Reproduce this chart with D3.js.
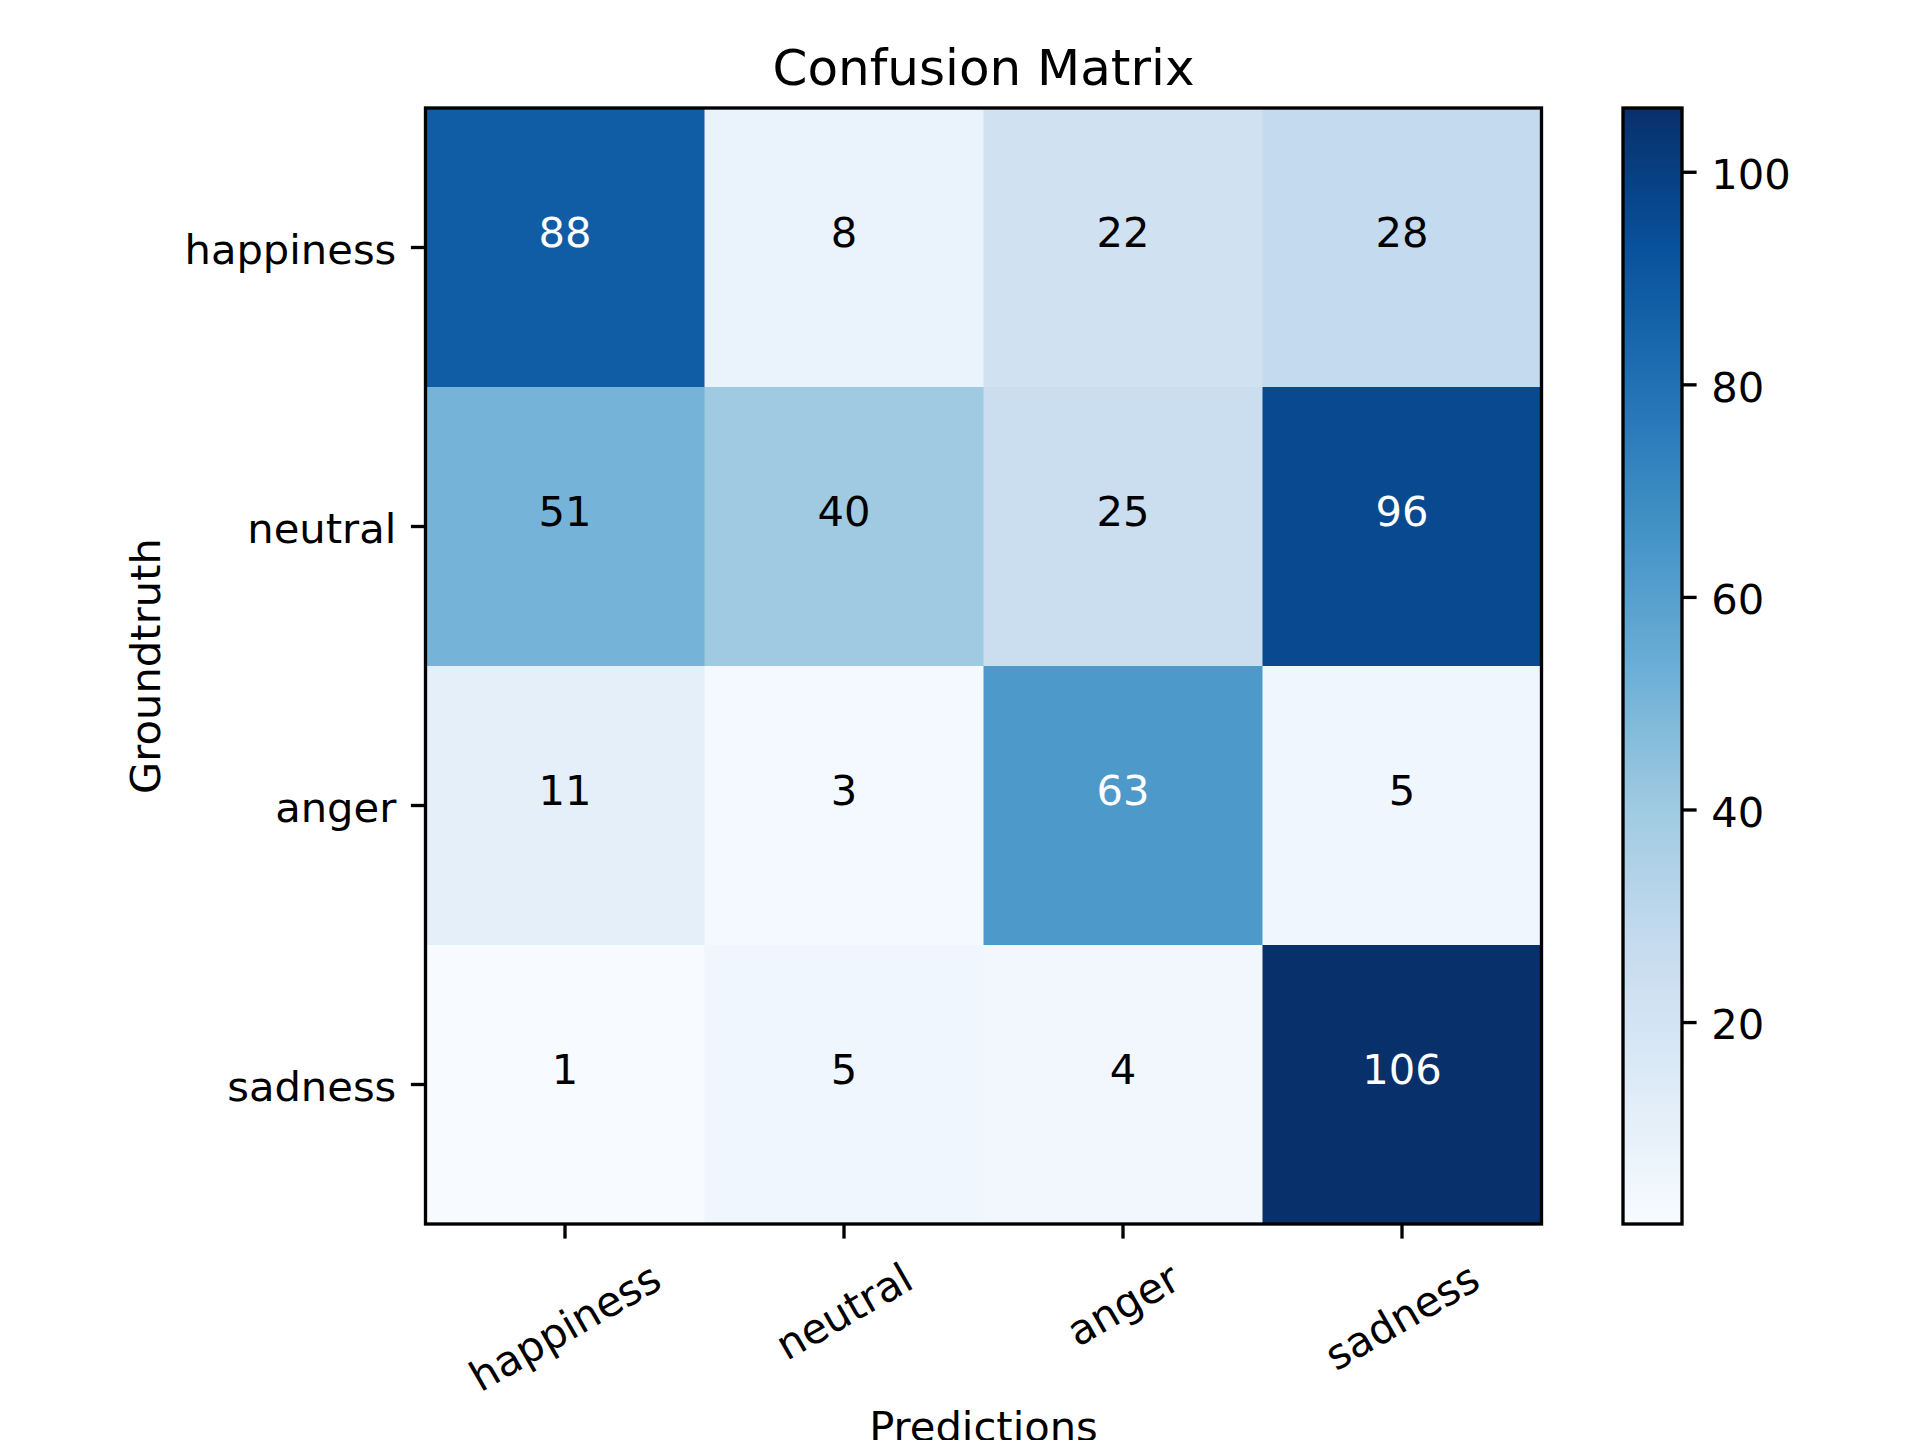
<!DOCTYPE html>
<html>
<head>
<meta charset="utf-8">
<script src="https://cdn.jsdelivr.net/npm/d3@7"></script>
<style>
  html, body { margin: 0; padding: 0; background: #fff; }
  svg { display: block; font-family: "DejaVu Sans", sans-serif; }
</style>
</head>
<body>
<svg id="chart" width="1920" height="1440"></svg>
<script>
// ---- data ----
const predictedLabels = ["happiness", "neutral", "anger", "sadness"];
const truthLabels = ["happiness", "neutral", "anger", "sadness"];
const rowHappiness = [88, 8, 22, 28];
const rowNeutral = [51, 40, 25, 96];
const rowAnger = [11, 3, 63, 5];
const rowSadness = [1, 5, 4, 106];
const colorbarTicks = [20, 40, 60, 80, 100];
const titleText = "Confusion Matrix";
const xLabelText = "Predictions";
const yLabelText = "Groundtruth";

// ---- style constants ----
const bluesStops = ["#f7fbff", "#deebf7", "#c6dbef", "#9ecae1", "#6baed6", "#4292c6", "#2171b5", "#08519c", "#08306b"];
const FS = 41.67, TICK = 14.6, PAD = 14.6, LW = 3.33;

const matrix = [rowHappiness, rowNeutral, rowAnger, rowSadness];
const flat = [];
matrix.forEach((row, i) => row.forEach((v, j) => flat.push({ truth: truthLabels[i], pred: predictedLabels[j], v })));
const vmin = d3.min(flat, d => d.v), vmax = d3.max(flat, d => d.v);

const pLeft = 425.5, pRight = 1541.5, pTop = 108, pBottom = 1224;
const svg = d3.select("#chart");

const x = d3.scaleBand().domain(predictedLabels).range([pLeft, pRight]).padding(0);
const y = d3.scaleBand().domain(truthLabels).range([pTop, pBottom]).padding(0);
const norm = d3.scaleLinear().domain([vmin, vmax]).range([0, 1]);
const cmap = d3.scaleLinear()
  .domain(bluesStops.map((_, i) => i / (bluesStops.length - 1)))
  .range(bluesStops).interpolate(d3.interpolateRgb).clamp(true);
const color = v => cmap(norm(v));

// cells
svg.append("g").selectAll("rect").data(flat).join("rect")
  .attr("x", d => x(d.pred)).attr("y", d => y(d.truth))
  .attr("width", x.bandwidth() + 0.5).attr("height", y.bandwidth() + 0.5)
  .attr("fill", d => color(d.v));

// cell text (baseline at cell centre, like matplotlib's default va)
const thresh = vmax / 2;
svg.append("g").selectAll("text").data(flat).join("text")
  .attr("x", d => x(d.pred) + x.bandwidth() / 2)
  .attr("y", d => y(d.truth) + y.bandwidth() / 2 - 1)
  .attr("text-anchor", "middle")
  .attr("font-size", FS)
  .attr("fill", d => d.v > thresh ? "#ffffff" : "#000000")
  .text(d => d.v);

// axes
const yAxis = svg.append("g").attr("transform", `translate(${pLeft},0)`)
  .call(d3.axisLeft(y).tickSize(TICK).tickPadding(PAD));
const xAxis = svg.append("g").attr("transform", `translate(0,${pBottom})`)
  .call(d3.axisBottom(x).tickSize(TICK).tickPadding(PAD));
[yAxis, xAxis].forEach(a => {
  a.select(".domain").remove();
  a.attr("font-family", null).attr("font-size", null);
  a.selectAll(".tick line").attr("stroke", "#000").attr("stroke-width", LW);
  a.selectAll(".tick text").attr("font-size", FS).attr("fill", "#000");
});
yAxis.selectAll(".tick text").attr("dy", "0.4em");

// rotated x tick labels (rotation 30, centered)
const sin30 = 0.5, cos30 = Math.sqrt(3) / 2, hText = FS * 1.164;
xAxis.selectAll(".tick text").each(function () {
  const t = d3.select(this);
  const w = this.getComputedTextLength();
  const bh = w * sin30 + hText * cos30;
  const cy = TICK + PAD + bh / 2;
  t.attr("text-anchor", "middle").attr("x", 0).attr("y", 0).attr("dy", "0.35em")
   .attr("transform", `translate(0,${cy}) rotate(-30)`);
});

// spines
svg.append("rect").attr("x", pLeft).attr("y", pTop)
  .attr("width", pRight - pLeft).attr("height", pBottom - pTop)
  .attr("fill", "none").attr("stroke", "#000").attr("stroke-width", LW);

// title
svg.append("text").attr("x", (pLeft + pRight) / 2).attr("y", 84.5)
  .attr("text-anchor", "middle").attr("font-size", 50).attr("fill", "#000").text(titleText);

// x label
svg.append("text").attr("x", (pLeft + pRight) / 2).attr("y", 1441)
  .attr("text-anchor", "middle").attr("font-size", FS).attr("fill", "#000").text(xLabelText);

// y label
svg.append("text").attr("transform", `translate(160,${(pTop + pBottom) / 2}) rotate(-90)`)
  .attr("text-anchor", "middle").attr("font-size", FS).attr("fill", "#000").text(yLabelText);

// colorbar
const cbLeft = 1623, cbRight = 1682;
const cbScale = d3.scaleLinear().domain([vmin, vmax]).range([pBottom, pTop]);
const defs = svg.append("defs");
const grad = defs.append("linearGradient").attr("id", "cbgrad")
  .attr("x1", 0).attr("y1", 1).attr("x2", 0).attr("y2", 0);
d3.range(0, 1.0001, 0.125).forEach(t => {
  grad.append("stop").attr("offset", t).attr("stop-color", cmap(t));
});
svg.append("rect").attr("x", cbLeft).attr("y", pTop)
  .attr("width", cbRight - cbLeft).attr("height", pBottom - pTop)
  .attr("fill", "url(#cbgrad)");
const cbAxis = svg.append("g").attr("transform", `translate(${cbRight},0)`)
  .call(d3.axisRight(cbScale).tickValues(colorbarTicks).tickSize(TICK).tickPadding(PAD).tickFormat(d3.format("d")));
cbAxis.select(".domain").remove();
cbAxis.attr("font-family", null).attr("font-size", null);
cbAxis.selectAll(".tick line").attr("stroke", "#000").attr("stroke-width", LW);
cbAxis.selectAll(".tick text").attr("font-size", FS).attr("fill", "#000").attr("dy", "0.4em");
svg.append("rect").attr("x", cbLeft).attr("y", pTop)
  .attr("width", cbRight - cbLeft).attr("height", pBottom - pTop)
  .attr("fill", "none").attr("stroke", "#000").attr("stroke-width", LW);
</script>
</body>
</html>
